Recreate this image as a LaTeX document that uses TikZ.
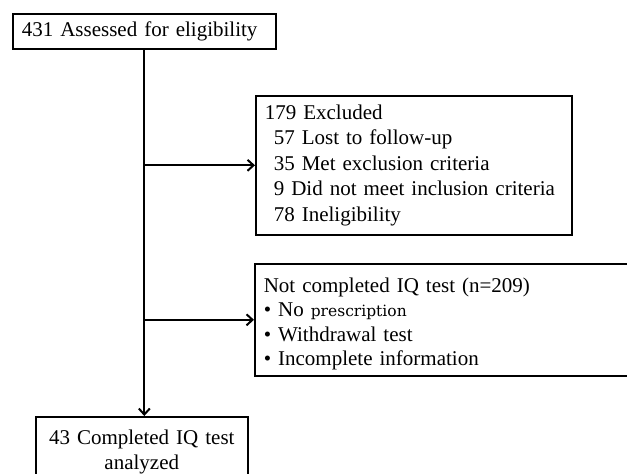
\documentclass[tikz,border=0pt]{standalone}
\usepackage{fontspec}
\setmainfont{Liberation Serif}
\newfontfamily\altserif{DejaVu Serif}
\usetikzlibrary{arrows.meta,positioning,calc}

\begin{document}
\begin{tikzpicture}[x=1pt, y=-1pt]
        % Define styles
        \tikzset{
            box/.style={draw, rectangle, line width=1.6pt, anchor=north west, align=left,
                        inner xsep=9pt, inner ysep=3pt,
                        font=\fontsize{21}{25.5}\selectfont},
            arrow/.style={-{Straight Barb[length=6pt, width=11pt]}, line width=2pt}
        }
        \useasboundingbox (0,0) rectangle (627,474);

        % Place nodes
        \node[box, minimum width=263pt, minimum height=35pt, text width=245pt] (assessed) at (12,13)
            {431 Assessed for eligibility};
        \node[box, minimum width=316pt, minimum height=139pt, text width=298pt] (excluded) at (255,95)
            {179 Excluded\\
             \hspace*{9pt}57 Lost to follow-up\\
             \hspace*{9pt}35 Met exclusion criteria\\
             \hspace*{9pt}9 Did not meet inclusion criteria\\
             \hspace*{9pt}78 Ineligibility};
        \node[box, minimum width=373pt, minimum height=112pt, text width=355pt,
              font=\fontsize{21}{24.5}\selectfont] (notdone) at (254,263)
            {\rule{0pt}{23pt}Not completed IQ test (n=209)\\
             \textbullet\ No {\altserif\fontsize{15.5}{24.5}\selectfont prescription}\\
             \textbullet\ Withdrawal test\\
             \textbullet\ Incomplete information};
        \node[box, align=center, minimum width=212pt, minimum height=70pt, text width=194pt,
              inner ysep=6pt] (analyzed) at (35,416)
            {43 Completed IQ test\\ analyzed};

        % Draw arrows
        \draw[arrow] (assessed.south) -- (assessed.south |- analyzed.north);
        \draw[arrow] (assessed.south |- excluded.west) -- (excluded.west);
        \draw[arrow] (assessed.south |- notdone.west) -- (notdone.west);
    \end{tikzpicture}
\end{document}
